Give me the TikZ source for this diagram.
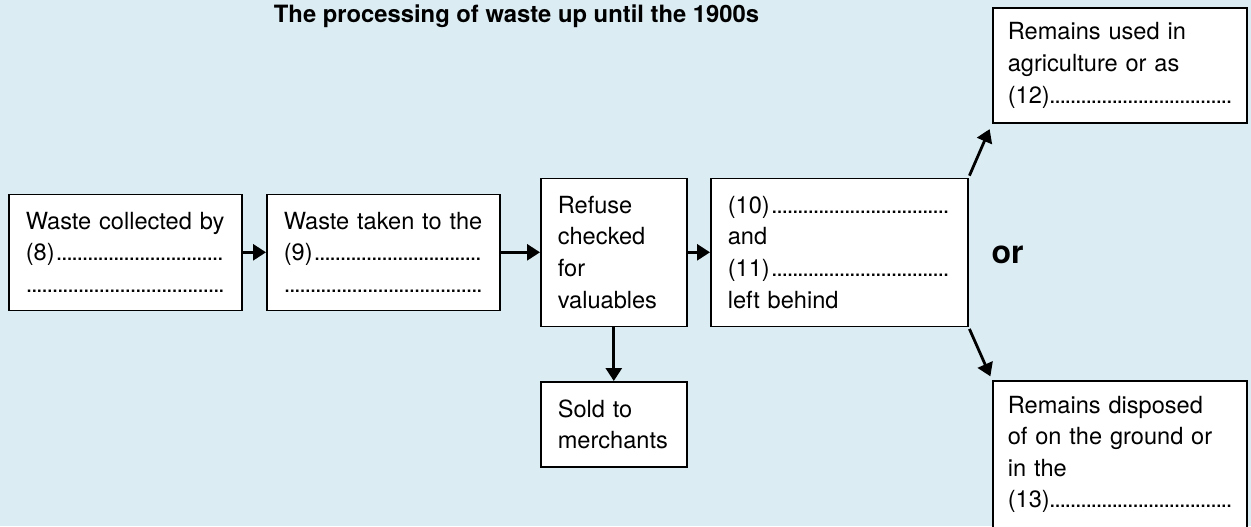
\documentclass[tikz,border=0pt]{standalone}
\usepackage{fontspec}
\setmainfont{TeX Gyre Heros}
\usepackage{tikz}
\usetikzlibrary{arrows.meta}
\usepackage{xcolor}
\definecolor{wastebg}{RGB}{219,236,242}
\newcommand{\colorstagebox}{white}
\newcommand{\widthstage}{116.5pt}
\newcommand{\widthcheck}{73pt}
\newcommand{\widthleft}{128.5pt}
\newcommand{\widthend}{127pt}
\newcommand{\blank}{\leavevmode\cleaders\hbox to 2.6pt{\hss.\hss}\hfill\kern0pt}
\tikzset{
    common/.style={anchor=north west, draw, fill=\colorstagebox, line width=0.8pt, rectangle, align=left, inner xsep=8.5pt,
        font=\fontsize{11.8}{15.8}\selectfont},
    stage/.style={common, minimum width=\widthstage, text width=99.5pt, minimum height=58pt},
    check/.style={common, minimum width=\widthcheck, text width=56pt},
    leftover/.style={common, minimum width=\widthleft, text width=111.5pt, minimum height=74pt},
    outcome/.style={common, minimum width=\widthend, text width=112pt, inner xsep=7.5pt},
    heading/.style={anchor=base, font=\bfseries\fontsize{11.9}{13}\selectfont},
    choice/.style={anchor=base, font=\bfseries\fontsize{16}{18}\selectfont},
    connector/.style={-{Triangle[length=6.5pt, width=8pt]}, line width=1.4pt},
}
\begin{document}
\begin{tikzpicture}[x=0.5pt, y=-0.5pt]
    \useasboundingbox (0,0) rectangle (1251,526);
    \clip (0,0) rectangle (1251,526);
    \fill[wastebg] (0,0) rectangle (1251,526);

    \node[heading] (title) at (516.5,22) {The processing of waste up until the 1900s};

    \node[stage] (collected) at (8,193.5) {Waste collected by\\ (8)\blank\\ \blank};
    \node[stage] (taken) at (266,193.5) {Waste taken to the\\ (9)\blank\\ \blank};
    \node[check, minimum height=74pt] (refuse) at (540,177.5) {Refuse\\ checked\\ for\\ valuables};
    \node[check, minimum height=42.5pt] (sold) at (540,381) {Sold to\\ merchants};
    \node[leftover] (behind) at (710,177.5) {(10)\blank\\ and\\ (11)\blank\\ left behind};
    \node[choice] (or) at (1007.5,263) {or};
    \node[outcome, minimum height=57.5pt] (agriculture) at (992,7) {Remains used in\\ agriculture or as\\ (12)\blank};
    \node[outcome, inner ysep=7.5pt, text depth=62pt] (ground) at (992,380) % runs past the bottom edge
        {Remains disposed\\ of on the ground or\\ in the\\ (13)\blank};

    \draw[connector] (collected) -- (taken);
    \draw[connector] (taken) -- (refuse);
    \draw[connector] (refuse) -- (behind);
    \draw[connector] (refuse) -- (sold);
    \draw[connector, shorten <=1pt, shorten >=3pt] (behind.north east) -- (agriculture.south west);
    \draw[connector, shorten <=1pt, shorten >=2pt] (behind.south east) -- (ground.north west);
\end{tikzpicture}
\end{document}
